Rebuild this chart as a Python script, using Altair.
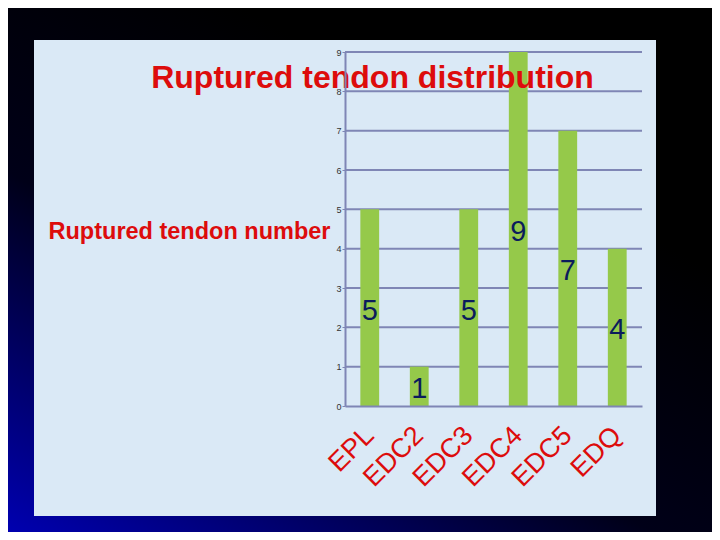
import altair as alt
import pandas as pd

categories = ["EPL", "EDC2", "EDC3", "EDC4", "EDC5", "EDQ"]
counts = [5, 1, 5, 9, 7, 4]
y_ticks = [0, 1, 2, 3, 4, 5, 6, 7, 8, 9]
grid_values = [1, 2, 3, 4, 5, 6, 7, 8, 9]

TITLE = "Ruptured tendon distribution"
Y_TITLE = "Ruptured tendon number"

FONT = "Arial, Liberation Sans, sans-serif"
RED = "#dd0c0c"
NAVY = "#0b1c5c"
GREEN = "#95c94a"
AXIS_C = "#7f86b5"
PANEL = "#dae9f6"

W, H = 297, 354
PAD = {"left": 337, "top": 44, "right": 70, "bottom": 126}

df = pd.DataFrame({"cat": categories, "count": counts})
grid_df = pd.DataFrame({"count": grid_values})
one = pd.DataFrame({"k": [0]})

yscale = alt.Scale(domain=[0, 9], nice=False)
xscale = alt.Scale(paddingInner=0.62, paddingOuter=0.31)

x_axis = alt.Axis(title=None, labelAngle=315, labelAlign="right",
                  labelBaseline="middle", labelPadding=25, ticks=False,
                  labelFontSize=27, labelColor=RED, labelFont=FONT,
                  labelOverlap=False, domainColor=AXIS_C, domainWidth=2,
                  zindex=1)
y_axis = alt.Axis(values=y_ticks, grid=False, title=Y_TITLE,
                  titleAngle=0, titleAlign="right", titleBaseline="middle",
                  titleX=-15, titleY=179, titleFontSize=23.5,
                  titleFontWeight="bold", titleColor=RED, titleFont=FONT,
                  labelFontSize=9, labelColor="#333333", labelFont=FONT,
                  labelPadding=1, tickSize=3, tickColor=AXIS_C,
                  domainColor=AXIS_C, domainWidth=2, zindex=1)

bg = alt.Chart(one).mark_rect(
    color=alt.LinearGradient(
        gradient="linear",
        stops=[alt.GradientStop(color="#0000b0", offset=0),
               alt.GradientStop(color="#000018", offset=0.55),
               alt.GradientStop(color="#000000", offset=1)],
        x1=0, y1=1, x2=0.6, y2=0.2,
    )
).encode(
    x=alt.value(-PAD["left"]), x2=alt.value(W + PAD["right"]),
    y=alt.value(-PAD["top"]), y2=alt.value(H + PAD["bottom"]),
)

panel = alt.Chart(one).mark_rect(color=PANEL).encode(
    x=alt.value(-311), x2=alt.value(311),
    y=alt.value(-12), y2=alt.value(464),
)

grid = alt.Chart(grid_df).mark_rule(color=AXIS_C, strokeWidth=2).encode(
    y=alt.Y("count:Q", scale=yscale, axis=y_axis),
)

bars = alt.Chart(df).mark_bar(color=GREEN).encode(
    x=alt.X("cat:N", sort=categories, scale=xscale, axis=x_axis),
    y=alt.Y("count:Q", scale=yscale, axis=y_axis),
)

labels = alt.Chart(df).transform_calculate(
    mid="datum.count / 2"
).mark_text(fontSize=29, font=FONT, color=NAVY, baseline="middle",
            align="center", dy=3).encode(
    x=alt.X("cat:N", sort=categories, scale=xscale, axis=x_axis),
    y=alt.Y("mid:Q", scale=yscale, axis=y_axis),
    text=alt.Text("count:Q"),
)

chart = alt.layer(bg, panel, grid, bars, labels).properties(
    width=W, height=H,
    autosize=alt.AutoSizeParams(type="none"),
    padding=PAD,
    background="#000000",
    title=alt.TitleParams(TITLE, fontSize=32, fontWeight="bold", color=RED,
                          font=FONT, anchor="middle", baseline="alphabetic",
                          offset=0, dx=-121, dy=112),
).configure_view(stroke=None)

chart.save("out.html", embed_options={"renderer": "svg", "actions": False})
